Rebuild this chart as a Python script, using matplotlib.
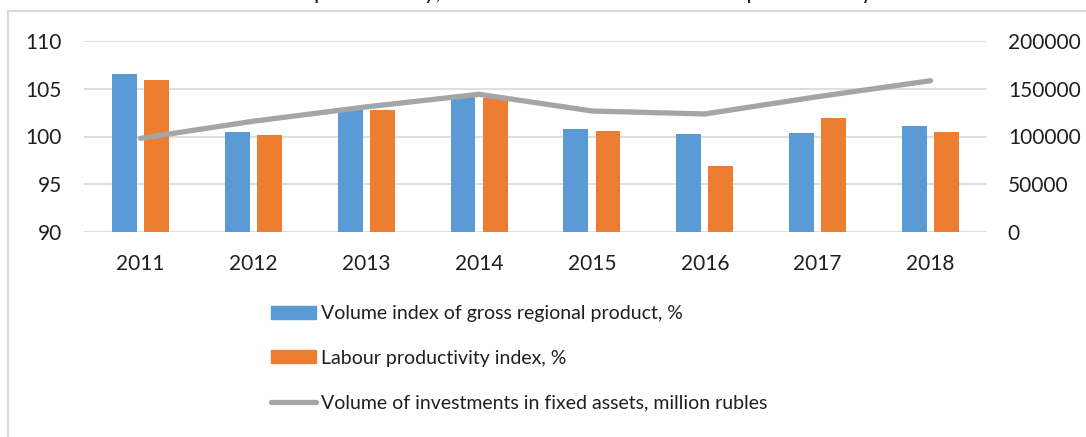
import matplotlib
matplotlib.use("Agg")
import matplotlib.pyplot as plt
import numpy as np
from matplotlib.patches import Patch, Rectangle
from matplotlib.lines import Line2D

years = ["2011", "2012", "2013", "2014", "2015", "2016", "2017", "2018"]
grp_index = [106.5, 100.5, 102.8, 104.2, 100.8, 100.3, 100.35, 101.1]
labour_index = [105.9, 100.15, 102.8, 104.0, 100.55, 96.95, 101.9, 100.5]
investments = [98100, 116000, 131000, 144200, 126700, 123600, 141700, 158400]

title = "Labour productivity, and investments in the Stavropol Territory"
label_grp = "Volume index of gross regional product, %"
label_lab = "Labour productivity index, %"
label_inv = "Volume of investments in fixed assets, million rubles"

BLUE = "#5B9BD5"
ORANGE = "#ED7D31"
GREY = "#A5A5A5"
GRID = "#D9D9D9"
TXT = "#1F1F1F"

plt.rcParams["font.family"] = ["Lato", "DejaVu Sans"]

W, H = 1086, 437
fig = plt.figure(figsize=(W / 100, H / 100), dpi=100)

# chart frame (Excel style)
fig.patches.append(Rectangle((8, -5), W, H - 11 + 5, transform=None,
                             fill=False, edgecolor=GRID, lw=1.5))

# title, clipped by the top edge as in the source
fig.text(555 / W, 1 + 1 / H, title, ha="center", va="baseline",
         fontsize=16.5, color=TXT)

ax = fig.add_axes([84 / W, 1 - 232 / H, (987 - 84) / W, (232 - 41) / H])
x = np.arange(len(years))
width = 0.22
off = 0.142
ax.bar(x - off, grp_index, width, color=BLUE, zorder=2)
ax.bar(x + off, labour_index, width, color=ORANGE, zorder=2)
ax.set_ylim(90, 110)
ax.set_xlim(-0.5, len(years) - 0.5)
ax.set_yticks([90, 95, 100, 105, 110])
ax.set_xticks(x)
ax.set_xticklabels(years)
ax.grid(axis="y", color=GRID, lw=1.2, zorder=0)
ax.set_axisbelow(True)
for s in ax.spines.values():
    s.set_visible(False)
ax.tick_params(axis="y", length=0, pad=16, labelsize=15, labelcolor=TXT)
ax.tick_params(axis="x", length=0, pad=16, labelsize=15, labelcolor=TXT)

ax2 = ax.twinx()
ax2.plot(x, investments, color=GREY, lw=3.8, solid_capstyle="round",
         solid_joinstyle="round", zorder=3)
ax2.set_ylim(0, 200000)
ax2.set_yticks([0, 50000, 100000, 150000, 200000])
ax2.set_yticklabels(["0", "50000", "100000", "150000", "200000"])
for s in ax2.spines.values():
    s.set_visible(False)
ax2.tick_params(axis="y", length=0, pad=15, labelsize=15, labelcolor=TXT)

handles = [
    Patch(facecolor=BLUE, edgecolor=BLUE),
    Patch(facecolor=ORANGE, edgecolor=ORANGE),
    Line2D([0], [0], color=GREY, lw=3.8, solid_capstyle="round"),
]
fig.legend(handles, [label_grp, label_lab, label_inv],
           loc="upper left", bbox_to_anchor=(271 / W, 1 - 305 / H),
           frameon=False, fontsize=14, handlelength=2.32, handleheight=0.65,
           handletextpad=0.26, labelspacing=1.43, borderpad=0, borderaxespad=0,
           labelcolor=TXT)

fig.savefig("out.png", dpi=100)
